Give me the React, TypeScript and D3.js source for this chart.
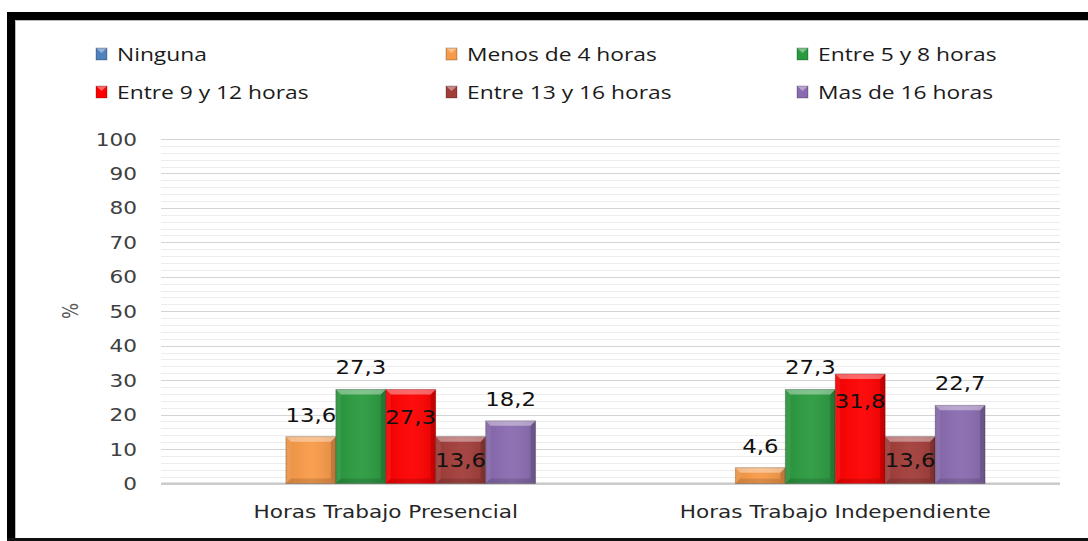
import React from "react";
import * as d3 from "d3";

const categories = ["Horas Trabajo Presencial", "Horas Trabajo Independiente"];
const seriesNames = [
  "Ninguna",
  "Menos de 4 horas",
  "Entre 5 y 8 horas",
  "Entre 9 y 12 horas",
  "Entre 13 y 16 horas",
  "Mas de 16 horas",
];
const valuesPresencial = [0, 13.6, 27.3, 27.3, 13.6, 18.2];
const valuesIndependiente = [0, 4.6, 27.3, 31.8, 13.6, 22.7];
const labelsPresencial = ["", "13,6", "27,3", "27,3", "13,6", "18,2"];
const labelsIndependiente = ["", "4,6", "27,3", "31,8", "13,6", "22,7"];
const yTicks = [0, 10, 20, 30, 40, 50, 60, 70, 80, 90, 100];

const colors = ["#4F81BD", "#F89A48", "#2A9A3F", "#FF0000", "#A23D3A", "#8A6BB0"];
// label center offset from bar top (negative = above)
const labelOffsets = [-22, -22, -22, 27.5, 23.5, -22];

const W = 1088;
const H = 541;
const SX = 1.2;
const FONT = "'DejaVu Sans', Verdana, sans-serif";
const LFONT = "'Open Sans', 'Noto Sans', sans-serif";

export default function App() {
  const x0 = d3.scaleBand<string>().domain(categories).range([161, 1060]);
  const x1 = d3
    .scaleBand<string>()
    .domain(seriesNames)
    .range([0, x0.bandwidth()])
    .paddingOuter(1.5);
  const y = d3.scaleLinear().domain([0, 100]).range([483.5, 139]);
  const minor = d3.range(0, 101, 2);
  const data = [valuesPresencial, valuesIndependiente];
  const labels = [labelsPresencial, labelsIndependiente];

  const legendCols = [96, 446, 797];
  const legendRows = [61, 99];

  const bar = (cx: number, v: number, color: string, key: string) => {
    const bx = cx;
    const bw = x1.bandwidth();
    const by = y(v);
    const bh = y(0) - by;
    if (bh <= 0) return null;
    const b = Math.min(5, bh / 2);
    const pts = (a: number[][]) => a.map((p) => p.join(",")).join(" ");
    return (
      <g key={key}>
        <rect x={bx} y={by} width={bw} height={bh} fill={color} />
        <rect x={bx} y={by} width={bw} height={bh} fill="url(#faceGrad)" />
        <polygon
          points={pts([[bx, by], [bx + bw, by], [bx + bw - b, by + b], [bx + b, by + b]])}
          fill="#fff"
          fillOpacity={0.38}
        />
        <polygon
          points={pts([[bx, by], [bx + b, by + b], [bx + b, by + bh - b], [bx, by + bh]])}
          fill="#fff"
          fillOpacity={0.08}
        />
        <polygon
          points={pts([[bx + bw, by], [bx + bw, by + bh], [bx + bw - b, by + bh - b], [bx + bw - b, by + b]])}
          fill="#000"
          fillOpacity={0.15}
        />
        <polygon
          points={pts([[bx, by + bh], [bx + bw, by + bh], [bx + bw - b, by + bh - b], [bx + b, by + bh - b]])}
          fill="#000"
          fillOpacity={0.12}
        />
        <rect x={bx} y={by} width={bw} height={bh} fill="none" stroke="#000" strokeOpacity={0.2} strokeWidth={1} />
      </g>
    );
  };

  return (
    <svg
      width={W}
      height={H}
      style={{ position: "absolute", left: 0, top: 0, background: "#fff" }}
    >
      <defs>
        <linearGradient id="faceGrad" x1="0" y1="0" x2="1" y2="0">
          <stop offset="0" stopColor="#000" stopOpacity={0.06} />
          <stop offset="0.5" stopColor="#fff" stopOpacity={0.05} />
          <stop offset="1" stopColor="#000" stopOpacity={0.1} />
        </linearGradient>
      </defs>
      <rect x={0} y={0} width={W} height={H} fill="#fff" />
      {/* frame */}
      <rect x={7} y={12} width={W - 7} height={8} fill="#000" />
      <rect x={7} y={12} width={8} height={H - 12} fill="#000" />
      <rect x={7} y={538} width={W - 7} height={3} fill="#111" />
      <line x1={15} x2={W} y1={20.5} y2={20.5} stroke="#bbb" />
      <line x1={15.5} x2={15.5} y1={20} y2={538} stroke="#bbb" />

      {/* minor grid */}
      {minor.map((v) => (
        <line
          key={"m" + v}
          x1={161}
          x2={1060}
          y1={Math.round(y(v)) + 0.5}
          y2={Math.round(y(v)) + 0.5}
          stroke={v % 10 === 0 ? "#d4d4d4" : "#ededed"}
          strokeWidth={1}
        />
      ))}
      <line x1={161} x2={1060} y1={y(0)} y2={y(0)} stroke="#c8c8c8" strokeWidth={2} />

      {/* y ticks */}
      {yTicks.map((t) => (
        <text
          key={"t" + t}
          transform={`translate(137,${y(t) + 6.5}) scale(${SX},1)`}
          textAnchor="end"
          fontFamily={FONT}
          fontSize={18}
          fill="#404040"
        >
          {t}
        </text>
      ))}
      <text
        transform={`translate(78,311) rotate(-90) scale(1,${SX})`}
        textAnchor="middle"
        fontFamily={FONT}
        fontSize={17}
        fill="#595959"
      >
        %
      </text>

      {/* bars */}
      {categories.map((c, ci) => (
        <g key={c}>
          {seriesNames.map((s, si) =>
            bar((x0(c) as number) + (x1(s) as number), data[ci][si], colors[si], c + s)
          )}
        </g>
      ))}

      {/* data labels */}
      {categories.map((c, ci) =>
        seriesNames.map((s, si) =>
          labels[ci][si] ? (
            <text
              key={"l" + c + s}
              transform={`translate(${(x0(c) as number) + (x1(s) as number) + x1.bandwidth() / 2},${
                y(data[ci][si]) + labelOffsets[si] + 7
              }) scale(${SX},1)`}
              textAnchor="middle"
              fontFamily={FONT}
              fontSize={19}
              fill="#111"
            >
              {labels[ci][si]}
            </text>
          ) : null
        )
      )}

      {/* category labels */}
      {categories.map((c) => (
        <text
          key={"c" + c}
          transform={`translate(${(x0(c) as number) + x0.bandwidth() / 2},518) scale(${SX},1)`}
          textAnchor="middle"
          fontFamily={FONT}
          fontSize={18}
          fill="#262626"
        >
          {c}
        </text>
      ))}

      {/* legend */}
      {seriesNames.map((s, i) => {
        const lx = legendCols[i % 3];
        const ly = legendRows[Math.floor(i / 3)];
        const mx = lx;
        const my = ly - 13;
        return (
          <g key={"lg" + s}>
            <rect x={mx} y={my} width={11} height={12} fill={colors[i]} />
            <polygon
              points={`${mx},${my} ${mx + 11},${my} ${mx + 5.5},${my + 5}`}
              fill="#fff"
              fillOpacity={0.4}
            />
            <rect x={mx} y={my} width={11} height={12} fill="none" stroke="#000" strokeOpacity={0.25} />
            <text
              transform={`translate(${lx + 21},${ly}) scale(${SX},1)`}
              fontFamily={LFONT}
              fontSize={19}
              fill="#1a1a1a"
            >
              {s}
            </text>
          </g>
        );
      })}
    </svg>
  );
}
